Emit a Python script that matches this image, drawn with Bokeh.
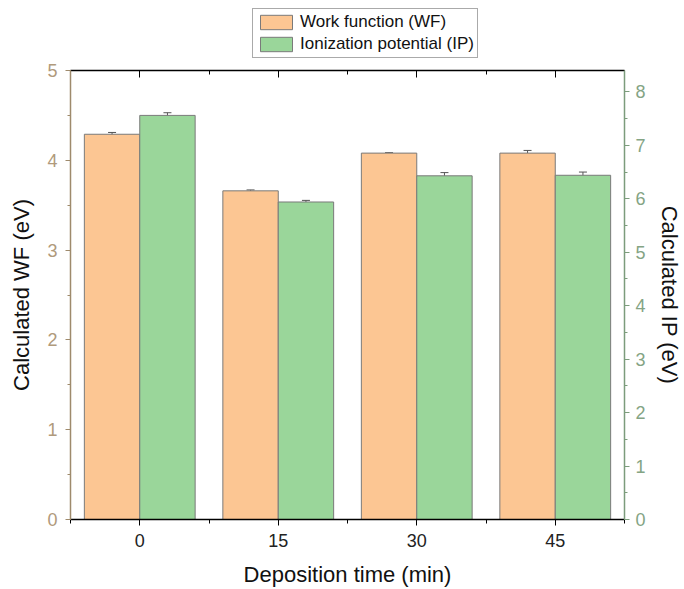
import numpy as np
from bokeh.plotting import figure
from bokeh.layouts import column
from bokeh.models import (ColumnDataSource, Range1d, LinearAxis, FixedTicker,
                          Whisker, TeeHead, Legend, LegendItem)
from bokeh.transform import dodge
from bokeh.embed import file_html
from bokeh.resources import INLINE

# ---- data ----
categories = ["0", "15", "30", "45"]
wf = [4.29, 3.66, 4.08, 4.08]
wf_err = [0.02, 0.01, 0.005, 0.03]
ip = [7.56, 5.94, 6.43, 6.44]
ip_err = [0.05, 0.03, 0.06, 0.06]
wf_ticks = [0, 1, 2, 3, 4, 5]
ip_ticks = [0, 1, 2, 3, 4, 5, 6, 7, 8]
series_names = ["Work function (WF)", "Ionization potential (IP)"]

FONT = "Liberation Sans"
ORANGE = "#FCC693"
GREEN = "#9AD69A"
TAN = "#9E8A6C"
TAN_TXT = "#B09A7C"
GRN_AX = "#7C9C7C"
GRN_TXT = "#84A484"
BAR_LINE = "#7a7a7a"

idx = np.arange(len(categories))
src = ColumnDataSource(dict(
    x=idx,
    wf=wf, wf_lo=np.array(wf) - np.array(wf_err), wf_hi=np.array(wf) + np.array(wf_err),
    ip=ip, ip_lo=np.array(ip) - np.array(ip_err), ip_hi=np.array(ip) + np.array(ip_err),
))

p = figure(width=684, height=531, output_backend="svg", toolbar_location=None,
           x_range=Range1d(-0.5, len(categories) - 0.5), y_range=Range1d(0, 5),
           x_axis_location=None, y_axis_location=None,
           min_border_left=70, min_border_right=54, min_border_top=12, min_border_bottom=70)
p.extra_y_ranges = {"ip": Range1d(0, 8.4)}
p.grid.visible = False
p.outline_line_color = None
p.background_fill_color = "white"
p.border_fill_color = "white"

r_wf = p.vbar(x=dodge("x", -0.2, range=p.x_range), top="wf", width=0.4, source=src,
              fill_color=ORANGE, line_color=BAR_LINE, line_width=1)
r_ip = p.vbar(x=dodge("x", 0.2, range=p.x_range), top="ip", width=0.4, source=src,
              fill_color=GREEN, line_color=BAR_LINE, line_width=1, y_range_name="ip")

w1 = Whisker(base=dodge("x", -0.2, range=p.x_range), upper="wf_hi", lower="wf_lo", source=src,
             line_color="#555555", line_width=1,
             upper_head=TeeHead(size=8, line_color="#555555", line_width=1),
             lower_head=TeeHead(size=8, line_color="#555555", line_width=1))
w2 = Whisker(base=dodge("x", 0.2, range=p.x_range), upper="ip_hi", lower="ip_lo", source=src,
             y_range_name="ip", line_color="#555555", line_width=1,
             upper_head=TeeHead(size=8, line_color="#555555", line_width=1),
             lower_head=TeeHead(size=8, line_color="#555555", line_width=1))
p.add_layout(w1)
p.add_layout(w2)

# bottom axis
xb = LinearAxis(ticker=FixedTicker(ticks=list(idx),
                                   minor_ticks=list(np.arange(-0.5, len(categories), 1.0))),
                axis_label="Deposition time (min)")
xb.major_label_overrides = {int(i): c for i, c in zip(idx, categories)}
xb.axis_line_color = "black"
xb.axis_line_width = 1.5
xb.major_tick_line_color = "black"
xb.minor_tick_line_color = "black"
xb.major_tick_in = 0
xb.major_tick_out = 6
xb.minor_tick_in = 0
xb.minor_tick_out = 4
xb.major_label_text_font = FONT
xb.major_label_text_font_size = "18px"
xb.major_label_text_color = "#222222"
xb.major_label_standoff = 8
xb.axis_label_text_font = FONT
xb.axis_label_text_font_size = "22px"
xb.axis_label_text_font_style = "normal"
xb.axis_label_text_color = "#111111"
xb.axis_label_standoff = 12
p.add_layout(xb, "below")

# top mirror axis
xt = LinearAxis(ticker=FixedTicker(ticks=list(idx),
                                   minor_ticks=list(np.arange(-0.5, len(categories), 1.0))))
xt.axis_line_color = "black"
xt.axis_line_width = 1.5
xt.major_tick_line_color = "black"
xt.minor_tick_line_color = "black"
xt.major_tick_in = 7
xt.major_tick_out = 0
xt.minor_tick_in = 4
xt.minor_tick_out = 0
xt.major_label_text_color = None
xt.major_label_text_font_size = "6px"
xt.major_label_standoff = 0
p.add_layout(xt, "above")

# left axis
yl = LinearAxis(ticker=FixedTicker(ticks=wf_ticks, minor_ticks=list(np.arange(0, 5.01, 0.5))),
                axis_label="Calculated WF (eV)")
yl.axis_line_color = TAN
yl.axis_line_width = 1.5
yl.major_tick_line_color = TAN
yl.minor_tick_line_color = TAN
yl.major_tick_in = 0
yl.major_tick_out = 5
yl.minor_tick_in = 0
yl.minor_tick_out = 3
yl.major_label_text_color = TAN_TXT
yl.major_label_text_font = FONT
yl.major_label_text_font_size = "18px"
yl.major_label_standoff = 8
yl.axis_label_text_font = FONT
yl.axis_label_text_font_size = "22px"
yl.axis_label_text_font_style = "normal"
yl.axis_label_text_color = "#111111"
yl.axis_label_standoff = 10
p.add_layout(yl, "left")

# right axis
yr = LinearAxis(y_range_name="ip",
                ticker=FixedTicker(ticks=ip_ticks, minor_ticks=list(np.arange(0, 8.41, 0.5))),
                axis_label="Calculated IP (eV)")
yr.axis_line_color = GRN_AX
yr.axis_line_width = 1.5
yr.major_tick_line_color = GRN_AX
yr.minor_tick_line_color = GRN_AX
yr.major_tick_in = 0
yr.major_tick_out = 5
yr.minor_tick_in = 0
yr.minor_tick_out = 3
yr.major_label_text_color = GRN_TXT
yr.major_label_text_font = FONT
yr.major_label_text_font_size = "18px"
yr.major_label_standoff = 6
yr.axis_label_text_font = FONT
yr.axis_label_text_font_size = "22px"
yr.axis_label_text_font_style = "normal"
yr.axis_label_text_color = "#111111"
yr.axis_label_standoff = 8
p.add_layout(yr, "right")

# legend strip above the plot (its bars lie far outside its visible ranges; only the legend shows)
lg = figure(width=684, height=58, output_backend="svg", toolbar_location=None,
            x_range=Range1d(100, 101), y_range=Range1d(100, 101),
            x_axis_location=None, y_axis_location=None,
            min_border=0, min_border_left=70, min_border_right=54,
            min_border_top=0, min_border_bottom=0)
lg.grid.visible = False
lg.outline_line_color = None
d_wf = lg.vbar(x="x", top="wf", width=0.4, source=src,
               fill_color=ORANGE, line_color=BAR_LINE, line_width=1)
d_ip = lg.vbar(x="x", top="ip", width=0.4, source=src,
               fill_color=GREEN, line_color=BAR_LINE, line_width=1)
legend = Legend(items=[LegendItem(label=series_names[0], renderers=[d_wf]),
                       LegendItem(label=series_names[1], renderers=[d_ip])],
                location=(182, 0), orientation="vertical",
                glyph_width=40, glyph_height=18, label_height=18, label_standoff=4,
                padding=3, spacing=2, margin=0,
                label_text_font=FONT, label_text_font_size="17px", label_text_color="#111111",
                border_line_color="#555555", border_line_width=1,
                background_fill_color="white", background_fill_alpha=1)
lg.add_layout(legend, "center")

layout = column(lg, p, spacing=0)
open("out.html", "w").write(file_html(layout, INLINE))
